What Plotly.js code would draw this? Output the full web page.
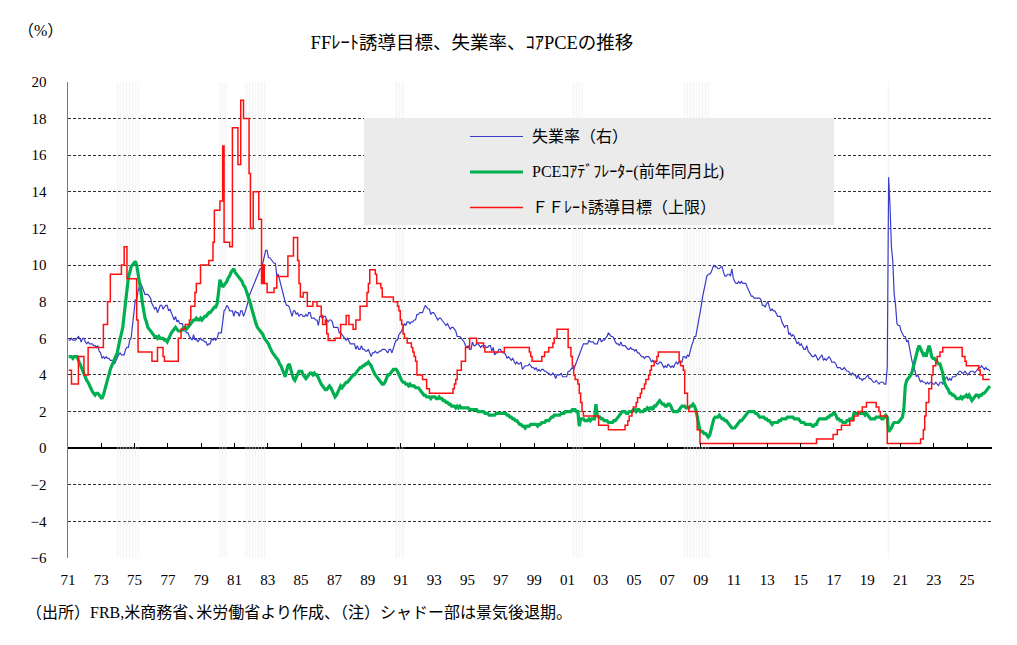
<!DOCTYPE html>
<html>
<head>
<meta charset="utf-8">
<script src="https://cdn.plot.ly/plotly-3.0.1.min.js"></script>
<style>
  html, body { margin: 0; padding: 0; background: #ffffff; }
  #chart { width: 1017px; height: 645px; }
</style>
</head>
<body>
<div id="chart"></div>
<script>
// ---- Data -------------------------------------------------------------
// Monthly series, January 1971 through May 2026.
const firstYear = 1971;

// Tick positions (every two years) and their labels
const tickYears = [1971, 1973, 1975, 1977, 1979, 1981, 1983, 1985, 1987, 1989, 1991, 1993, 1995, 1997,
                   1999, 2001, 2003, 2005, 2007, 2009, 2011, 2013, 2015, 2017, 2019, 2021, 2023, 2025];
const tickLabels = ['71', '73', '75', '77', '79', '81', '83', '85', '87', '89', '91', '93', '95', '97',
                    '99', '01', '03', '05', '07', '09', '11', '13', '15', '17', '19', '21', '23', '25'];

// Unemployment rate (%)
const unemployment = [
  5.9,5.9,6.0,5.9,5.9,5.9,6.0,6.1,6.0,5.8,6.0,6.0,   // 1971
  5.8,5.7,5.8,5.7,5.7,5.7,5.6,5.6,5.5,5.6,5.3,5.2,   // 1972
  4.9,5.0,4.9,5.0,4.9,4.9,4.8,4.8,4.8,4.6,4.8,4.9,   // 1973
  5.1,5.2,5.1,5.1,5.1,5.4,5.5,5.5,5.9,6.0,6.6,7.2,   // 1974
  8.1,8.1,8.6,8.8,9.0,8.8,8.6,8.4,8.4,8.4,8.3,8.2,   // 1975
  7.9,7.7,7.6,7.7,7.4,7.6,7.8,7.8,7.6,7.7,7.8,7.8,   // 1976
  7.5,7.6,7.4,7.2,7.0,7.2,6.9,7.0,6.8,6.8,6.8,6.4,   // 1977
  6.4,6.3,6.3,6.1,6.0,5.9,6.2,5.9,6.0,5.8,5.9,6.0,   // 1978
  5.9,5.9,5.8,5.8,5.6,5.7,5.7,6.0,5.9,6.0,5.9,6.0,   // 1979
  6.3,6.3,6.3,6.9,7.5,7.6,7.8,7.7,7.5,7.5,7.5,7.2,   // 1980
  7.5,7.4,7.4,7.2,7.5,7.5,7.2,7.4,7.6,7.9,8.3,8.5,   // 1981
  8.6,8.9,9.0,9.3,9.4,9.6,9.8,9.8,10.1,10.4,10.8,10.8, // 1982
  10.4,10.4,10.3,10.2,10.1,10.1,9.4,9.5,9.2,8.8,8.5,8.3, // 1983
  8.0,7.8,7.8,7.7,7.4,7.2,7.5,7.5,7.3,7.4,7.2,7.3,   // 1984
  7.3,7.2,7.2,7.3,7.2,7.4,7.4,7.1,7.1,7.1,7.0,7.0,   // 1985
  6.7,7.2,7.2,7.1,7.2,7.2,7.0,6.9,7.0,7.0,6.9,6.6,   // 1986
  6.6,6.6,6.6,6.3,6.3,6.2,6.1,6.0,5.9,6.0,5.8,5.7,   // 1987
  5.7,5.7,5.7,5.4,5.6,5.4,5.4,5.6,5.4,5.4,5.3,5.3,   // 1988
  5.4,5.2,5.0,5.2,5.2,5.3,5.2,5.2,5.3,5.3,5.4,5.4,   // 1989
  5.4,5.3,5.2,5.4,5.4,5.2,5.5,5.7,5.9,5.9,6.2,6.3,   // 1990
  6.4,6.6,6.8,6.7,6.9,6.9,6.8,6.9,6.9,7.0,7.0,7.3,   // 1991
  7.3,7.4,7.4,7.4,7.6,7.8,7.7,7.6,7.6,7.3,7.4,7.4,   // 1992
  7.3,7.1,7.0,7.1,7.1,7.0,6.9,6.8,6.7,6.8,6.6,6.5,   // 1993
  6.6,6.6,6.5,6.4,6.1,6.1,6.1,6.0,5.9,5.8,5.6,5.5,   // 1994
  5.6,5.4,5.4,5.8,5.6,5.6,5.7,5.7,5.6,5.5,5.6,5.6,   // 1995
  5.6,5.5,5.5,5.6,5.6,5.3,5.5,5.1,5.2,5.2,5.4,5.4,   // 1996
  5.3,5.2,5.2,5.1,4.9,5.0,4.9,4.8,4.9,4.7,4.6,4.7,   // 1997
  4.6,4.6,4.7,4.3,4.4,4.5,4.5,4.5,4.6,4.5,4.4,4.4,   // 1998
  4.3,4.4,4.2,4.3,4.2,4.3,4.3,4.2,4.2,4.1,4.1,4.0,   // 1999
  4.0,4.1,4.0,3.8,4.0,4.0,4.0,4.1,3.9,3.9,3.9,3.9,   // 2000
  4.2,4.2,4.3,4.4,4.3,4.5,4.6,4.9,5.0,5.3,5.5,5.7,   // 2001
  5.7,5.7,5.7,5.9,5.8,5.8,5.8,5.7,5.7,5.7,5.9,6.0,   // 2002
  5.8,5.9,5.9,6.0,6.1,6.3,6.2,6.1,6.1,6.0,5.8,5.7,   // 2003
  5.7,5.6,5.8,5.6,5.6,5.6,5.5,5.4,5.4,5.5,5.4,5.4,   // 2004
  5.3,5.4,5.2,5.2,5.1,5.0,5.0,4.9,5.0,5.0,5.0,4.9,   // 2005
  4.7,4.8,4.7,4.7,4.6,4.6,4.7,4.7,4.5,4.4,4.5,4.4,   // 2006
  4.6,4.5,4.4,4.5,4.4,4.6,4.7,4.6,4.7,4.7,4.7,5.0,   // 2007
  5.0,4.9,5.1,5.0,5.4,5.6,5.8,6.1,6.1,6.5,6.8,7.3,   // 2008
  7.8,8.3,8.7,9.0,9.4,9.5,9.5,9.6,9.8,10.0,9.9,9.9,  // 2009
  9.8,9.8,9.9,9.9,9.6,9.4,9.4,9.5,9.5,9.4,9.8,9.3,   // 2010
  9.1,9.0,9.0,9.1,9.0,9.1,9.0,9.0,9.0,8.8,8.6,8.5,   // 2011
  8.3,8.3,8.2,8.2,8.2,8.2,8.2,8.1,7.8,7.8,7.7,7.9,   // 2012
  8.0,7.7,7.5,7.6,7.5,7.5,7.3,7.2,7.2,7.2,6.9,6.7,   // 2013
  6.6,6.7,6.7,6.2,6.3,6.1,6.2,6.1,5.9,5.7,5.8,5.6,   // 2014
  5.7,5.5,5.4,5.4,5.6,5.3,5.2,5.1,5.0,5.0,5.1,5.0,   // 2015
  4.8,4.9,5.0,5.1,4.8,4.9,4.8,4.9,5.0,4.9,4.7,4.7,   // 2016
  4.7,4.6,4.4,4.4,4.4,4.3,4.3,4.4,4.3,4.2,4.2,4.1,   // 2017
  4.0,4.1,4.0,4.0,3.8,4.0,3.8,3.8,3.7,3.8,3.8,3.9,   // 2018
  4.0,3.8,3.8,3.7,3.6,3.6,3.7,3.6,3.5,3.6,3.6,3.6,   // 2019
  3.5,3.5,4.4,14.8,13.2,11.0,10.2,8.4,7.8,6.8,6.7,6.7, // 2020
  6.4,6.2,6.1,6.1,5.8,5.9,5.4,5.1,4.7,4.5,4.2,3.9,   // 2021
  4.0,3.8,3.6,3.7,3.6,3.6,3.5,3.6,3.5,3.6,3.6,3.5,   // 2022
  3.5,3.6,3.5,3.4,3.6,3.6,3.5,3.7,3.8,3.9,3.7,3.8,   // 2023
  3.7,3.9,3.9,3.9,4.0,4.1,4.2,4.2,4.1,4.1,4.2,4.1,   // 2024
  4.0,4.1,4.2,4.2,4.2,4.1,4.2,4.3,4.4,4.4,4.5,4.4,   // 2025
  4.3,4.4,4.3,4.3,4.2                                // 2026
];

// Core PCE deflator, year-on-year (%)
const corePce = [
  5.0,5.0,5.0,4.9,5.0,5.0,5.0,4.8,4.6,4.4,4.2,4.0,   // 1971
  3.9,3.7,3.6,3.4,3.2,3.1,3.0,2.9,3.0,3.0,2.9,2.8,   // 1972
  2.7,2.9,3.2,3.5,3.8,4.1,4.3,4.5,4.7,4.9,5.0,5.2,   // 1973
  5.6,6.0,6.3,6.6,7.3,8.0,8.8,9.3,9.6,9.9,10.0,10.1, // 1974
  10.2,10.0,9.6,9.2,8.6,8.0,7.4,7.1,6.9,6.6,6.5,6.4, // 1975
  6.3,6.2,6.1,6.1,6.0,6.1,6.0,6.0,6.0,5.9,5.9,5.8,   // 1976
  6.0,6.1,6.3,6.4,6.5,6.6,6.5,6.4,6.4,6.4,6.5,6.6,   // 1977
  6.6,6.5,6.6,6.7,6.8,6.9,7.0,7.0,7.1,7.0,7.0,7.1,   // 1978
  7.0,7.1,7.2,7.2,7.3,7.4,7.4,7.5,7.6,7.7,7.7,7.9,   // 1979
  8.5,9.2,9.0,8.8,8.9,9.0,9.1,9.3,9.4,9.6,9.7,9.8,   // 1980
  9.6,9.5,9.4,9.3,9.2,9.1,8.9,8.8,8.6,8.4,8.2,7.9,   // 1981
  7.6,7.3,7.0,6.8,6.6,6.5,6.4,6.3,6.2,6.0,5.9,5.8,   // 1982
  5.7,5.5,5.3,5.2,5.1,5.0,4.9,4.8,4.6,4.5,4.3,4.1,   // 1983
  3.9,4.2,4.5,4.6,4.3,4.0,3.8,3.7,3.9,4.1,4.2,4.2,   // 1984
  4.2,4.0,3.9,3.8,3.9,4.0,4.1,4.1,4.0,4.1,4.0,4.0,   // 1985
  3.8,3.6,3.5,3.4,3.3,3.2,3.2,3.3,3.4,3.3,3.1,2.9,   // 1986
  2.8,2.9,3.1,3.3,3.4,3.3,3.4,3.5,3.6,3.6,3.7,3.8,   // 1987
  3.9,4.0,4.0,4.1,4.2,4.3,4.4,4.4,4.5,4.5,4.6,4.6,   // 1988
  4.7,4.6,4.5,4.3,4.1,4.0,3.9,3.8,3.7,3.6,3.5,3.5,   // 1989
  3.6,3.8,4.0,4.0,4.1,4.2,4.3,4.3,4.3,4.2,4.0,3.8,   // 1990
  3.7,3.6,3.6,3.5,3.5,3.4,3.5,3.4,3.4,3.4,3.3,3.3,   // 1991
  3.3,3.2,3.1,3.0,2.9,2.9,2.8,2.8,2.8,2.7,2.8,2.8,   // 1992
  2.8,2.7,2.7,2.8,2.7,2.7,2.6,2.6,2.5,2.5,2.4,2.4,   // 1993
  2.3,2.3,2.3,2.2,2.3,2.2,2.3,2.2,2.2,2.2,2.2,2.2,   // 1994
  2.2,2.1,2.1,2.1,2.1,2.1,2.1,2.0,2.0,2.0,2.0,2.0,   // 1995
  1.9,1.9,1.9,1.8,1.8,1.8,1.8,1.8,1.9,1.9,1.9,1.9,   // 1996
  1.9,1.9,1.9,1.9,1.8,1.8,1.7,1.7,1.6,1.6,1.5,1.5,   // 1997
  1.4,1.3,1.3,1.2,1.2,1.1,1.2,1.2,1.2,1.3,1.3,1.3,   // 1998
  1.3,1.3,1.2,1.3,1.3,1.4,1.4,1.4,1.5,1.5,1.5,1.6,   // 1999
  1.7,1.7,1.8,1.8,1.8,1.8,1.8,1.9,1.9,1.9,2.0,2.0,   // 2000
  2.0,2.0,2.0,2.1,2.1,2.1,2.0,2.0,1.2,1.6,1.6,1.6,   // 2001
  1.5,1.5,1.5,1.6,1.5,1.6,1.6,1.6,2.4,1.8,1.7,1.7,   // 2002
  1.6,1.6,1.5,1.5,1.5,1.4,1.4,1.4,1.4,1.5,1.5,1.6,   // 2003
  1.7,1.8,1.9,2.0,2.0,2.0,1.9,1.9,2.0,2.0,2.0,2.1,   // 2004
  2.1,2.0,2.1,2.1,2.0,2.0,2.0,2.1,2.1,2.2,2.1,2.2,   // 2005
  2.2,2.1,2.3,2.3,2.4,2.5,2.6,2.5,2.4,2.4,2.3,2.3,   // 2006
  2.4,2.4,2.3,2.1,2.0,2.0,2.0,2.0,2.1,2.2,2.3,2.3,   // 2007
  2.3,2.2,2.2,2.2,2.3,2.3,2.4,2.3,2.1,1.7,1.2,1.0,   // 2008
  0.9,0.9,0.8,0.8,0.7,0.6,0.7,1.0,1.4,1.6,1.7,1.7,   // 2009
  1.7,1.8,1.7,1.6,1.6,1.5,1.5,1.4,1.3,1.2,1.1,1.1,   // 2010
  1.1,1.2,1.3,1.4,1.5,1.5,1.6,1.7,1.8,1.9,2.0,2.0,   // 2011
  2.0,2.0,2.0,1.9,1.9,1.8,1.7,1.7,1.7,1.7,1.6,1.6,   // 2012
  1.5,1.5,1.4,1.3,1.4,1.4,1.4,1.4,1.5,1.5,1.6,1.6,   // 2013
  1.6,1.6,1.7,1.7,1.7,1.7,1.7,1.6,1.6,1.6,1.6,1.5,   // 2014
  1.4,1.4,1.4,1.3,1.3,1.3,1.3,1.3,1.2,1.2,1.3,1.3,   // 2015
  1.5,1.6,1.6,1.6,1.6,1.6,1.6,1.7,1.7,1.8,1.8,1.9,   // 2016
  1.9,1.8,1.6,1.6,1.5,1.5,1.4,1.4,1.4,1.5,1.5,1.6,   // 2017
  1.6,1.6,1.9,1.9,1.9,1.9,1.9,1.9,1.9,1.9,1.8,1.9,   // 2018
  1.8,1.7,1.6,1.6,1.6,1.6,1.7,1.7,1.7,1.7,1.6,1.6,   // 2019
  1.7,1.8,1.7,0.9,1.0,1.1,1.3,1.4,1.4,1.4,1.4,1.5,   // 2020
  1.6,1.7,2.2,3.4,3.7,3.8,3.9,4.0,4.2,4.5,4.9,5.2,   // 2021
  5.4,5.6,5.4,5.2,5.1,5.2,5.0,5.3,5.6,5.4,5.0,4.9,   // 2022
  4.9,4.8,4.7,4.6,4.6,4.3,4.1,3.6,3.4,3.3,3.2,3.0,   // 2023
  3.0,2.9,2.9,2.8,2.7,2.7,2.7,2.8,2.7,2.8,2.8,2.9,   // 2024
  2.8,2.9,2.7,2.6,2.7,2.8,2.9,2.9,2.8,2.9,2.9,3.0,   // 2025
  3.0,3.1,3.2,3.3,3.4                                // 2026
];

// Federal funds target (upper bound, %): month of each change and the new level
const ffMonths = [
  '1971-01','1971-03','1971-08','1971-12','1972-03','1973-02','1973-05','1973-07','1974-03','1974-05',
  '1974-07','1975-02','1975-03','1976-01','1976-05','1976-09','1976-10','1977-08','1977-10','1978-01',
  '1978-04','1978-05','1978-08','1978-09','1978-12','1979-06','1979-09','1979-10','1980-02','1980-04',
  '1980-05','1980-09','1980-11','1981-03','1981-05','1981-07','1981-11','1981-12','1982-02','1982-06',
  '1982-08','1982-09','1982-10','1982-12','1983-05','1983-07','1984-03','1984-07','1984-10','1984-11',
  '1984-12','1985-02','1985-05','1985-09','1985-12','1986-03','1986-04','1986-06','1986-07','1986-08',
  '1987-01','1987-05','1987-09','1987-11','1988-02','1988-04','1988-07','1988-12','1989-01','1989-02',
  '1989-06','1989-07','1989-10','1989-11','1990-07','1990-10','1990-11','1990-12','1991-01','1991-02',
  '1991-03','1991-05','1991-08','1991-09','1991-10','1991-11','1991-12','1992-04','1992-07','1992-09',
  '1994-02','1994-03','1994-04','1994-05','1994-08','1994-11','1995-02','1995-07','1995-12','1996-01',
  '1997-03','1998-09','1998-10','1998-11','1999-06','1999-08','1999-11','2000-02','2000-03','2000-05',
  '2001-01','2001-03','2001-04','2001-05','2001-06','2001-08','2001-09','2001-10','2001-11','2001-12',
  '2002-11','2003-06','2004-06','2004-08','2004-09','2004-11','2004-12','2005-02','2005-03','2005-05',
  '2005-06','2005-08','2005-09','2005-11','2005-12','2006-01','2006-03','2006-05','2006-06','2007-09',
  '2007-10','2007-12','2008-01','2008-03','2008-04','2008-10','2008-12','2015-12','2016-12','2017-03',
  '2017-06','2017-12','2018-03','2018-06','2018-09','2018-12','2019-07','2019-09','2019-10','2020-03',
  '2022-03','2022-05','2022-06','2022-07','2022-09','2022-11','2022-12','2023-02','2023-03','2023-05',
  '2023-07','2024-09','2024-11','2024-12','2025-09','2025-10','2025-12','2026-05'
];
const ffUpper = [
  4.25, 3.5, 5.0, 4.0, 5.5, 6.75, 8.0, 9.5, 10.0, 11.0,
  9.25, 7.0, 5.25, 4.75, 5.5, 5.0, 4.75, 6.0, 6.5, 6.75,
  7.0, 7.75, 8.5, 9.0, 10.0, 10.25, 11.25, 13.0, 13.5, 16.5,
  11.25, 11.0, 17.5, 15.5, 19.0, 18.0, 15.0, 12.0, 14.0, 12.5,
  9.0, 10.0, 9.0, 8.5, 8.75, 9.375, 10.5, 11.5, 10.25, 9.0,
  8.25, 8.5, 7.75, 8.0, 7.75, 7.25, 6.75, 7.0, 6.25, 5.875,
  6.0, 6.75, 7.25, 6.75, 6.5, 7.0, 7.75, 8.5, 9.0, 9.75,
  9.5, 9.0, 8.75, 8.25, 8.0, 7.75, 7.5, 7.0, 6.75, 6.25,
  6.0, 5.75, 5.5, 5.25, 5.0, 4.75, 4.0, 3.75, 3.25, 3.0,
  3.25, 3.5, 3.75, 4.25, 4.75, 5.5, 6.0, 5.75, 5.5, 5.25,
  5.5, 5.25, 5.0, 4.75, 5.0, 5.25, 5.5, 5.75, 6.0, 6.5,
  5.5, 5.0, 4.5, 4.0, 3.75, 3.5, 3.0, 2.5, 2.0, 1.75,
  1.25, 1.0, 1.25, 1.5, 1.75, 2.0, 2.25, 2.5, 2.75, 3.0,
  3.25, 3.5, 3.75, 4.0, 4.25, 4.5, 4.75, 5.0, 5.25, 4.75,
  4.5, 4.25, 3.0, 2.25, 2.0, 1.0, 0.25, 0.5, 0.75, 1.0,
  1.25, 1.5, 1.75, 2.0, 2.25, 2.5, 2.25, 2.0, 1.75, 0.25,
  0.5, 1.0, 1.75, 2.5, 3.25, 4.0, 4.5, 4.75, 5.0, 5.25,
  5.5, 5.0, 4.75, 4.5, 4.25, 4.0, 3.75, 3.75
];

// Recessions (first and last month)
const recessionStart = ['1973-12','1980-02','1981-08','1990-08','2001-04','2008-01','2020-03'];
const recessionEnd   = ['1975-03','1980-07','1982-11','1991-03','2001-11','2009-06','2020-04'];

const seriesNames = ['失業率（右）', 'PCEｺｱﾃﾞﾌﾚｰﾀｰ(前年同月比)', 'ＦＦﾚｰﾄ誘導目標（上限）'];
const chartTitle = 'FFﾚｰﾄ誘導目標、失業率、ｺｱPCEの推移';
const unitLabel = '（%）';
const sourceNote = '（出所）FRB,米商務省､米労働省より作成、（注）シャドー部は景気後退期。';

// ---- Helpers ----------------------------------------------------------
const monthPos = i => firstYear + i / 12 + 1 / 24;          // centre of month i
const ymPos = s => { const [y, m] = s.split('-').map(Number); return y + (m - 1) / 12 + 1 / 24; };
const ymStart = s => { const [y, m] = s.split('-').map(Number); return y + (m - 1) / 12; };
const ymEnd = s => { const [y, m] = s.split('-').map(Number); return y + m / 12; };

const xMin = firstYear, xMax = firstYear + 666 / 12;
const yMin = -6, yMax = 20;

const W = 1017, H = 645;
const M = { l: 68, r: 25, t: 82, b: 87 };
const pw = W - M.l - M.r, ph = H - M.t - M.b;
const px = x => (x - M.l) / pw;      // pixel -> paper x
const py = y => (H - M.b - y) / ph;  // pixel -> paper y

const serif = 'Liberation Serif, Noto Sans CJK JP';
const colors = ['#3b3bc9', '#00b050', '#ff1010'];
const widths = [1.2, 3.2, 1.5];

// ---- Traces -----------------------------------------------------------
const recession = {
  type: 'bar',
  x: recessionStart.map((s, i) => (ymStart(s) + ymEnd(recessionEnd[i])) / 2),
  width: recessionStart.map((s, i) => ymEnd(recessionEnd[i]) - ymStart(s)),
  y: recessionStart.map(() => yMax - yMin),
  base: yMin,
  marker: {
    color: 'rgba(255,255,255,0)',
    line: { width: 0 },
    pattern: { shape: '|', fgcolor: '#ebebeb', bgcolor: 'rgba(255,255,255,0)',
               size: 3, solidity: 0.5, fillmode: 'overlay' }
  },
  hoverinfo: 'skip', showlegend: false
};

const unemp = {
  type: 'scatter', mode: 'lines', name: seriesNames[0],
  x: unemployment.map((_, i) => monthPos(i)), y: unemployment,
  line: { color: colors[0], width: widths[0] }, showlegend: false
};
const pce = {
  type: 'scatter', mode: 'lines', name: seriesNames[1],
  x: corePce.map((_, i) => monthPos(i)), y: corePce,
  line: { color: colors[1], width: widths[1] }, showlegend: false
};
const ff = {
  type: 'scatter', mode: 'lines', name: seriesNames[2],
  x: ffMonths.map(ymPos), y: ffUpper,
  line: { color: colors[2], width: widths[2], shape: 'hv' }, showlegend: false
};
// carrier for the tick marks drawn on the zero line
const zeroAxisCarrier = { type: 'scatter', x: [], y: [], xaxis: 'x2', yaxis: 'y', showlegend: false, hoverinfo: 'skip' };

// ---- Legend box (drawn by hand) ------------------------------------
const legendRows = [136.5, 172, 207.5];
const shapes = [
  { type: 'rect', xref: 'paper', yref: 'paper', layer: 'above',
    x0: px(364), x1: px(834), y0: py(225), y1: py(118),
    fillcolor: '#ebebeb', line: { width: 0 } }
];
legendRows.forEach((yy, i) => shapes.push({
  type: 'line', xref: 'paper', yref: 'paper', layer: 'above',
  x0: px(470), x1: px(523), y0: py(yy), y1: py(yy),
  line: { color: colors[i], width: widths[i] }
}));

const annotations = legendRows.map((yy, i) => ({
  xref: 'paper', yref: 'paper', x: px(530), y: py(yy),
  xanchor: 'left', yanchor: 'middle', showarrow: false,
  text: seriesNames[i], font: { family: serif, size: 16, color: '#000' }
}));
annotations.push({
  xref: 'paper', yref: 'paper', x: px(40), y: py(31),
  xanchor: 'center', yanchor: 'middle', showarrow: false,
  text: unitLabel, font: { family: serif, size: 16, color: '#000' }
});
annotations.push({
  xref: 'paper', yref: 'paper', x: px(24), y: py(612),
  xanchor: 'left', yanchor: 'middle', showarrow: false,
  text: sourceNote, font: { family: serif, size: 16, color: '#000' }
});

// ---- Layout -----------------------------------------------------------
const layout = {
  width: W, height: H,
  margin: M,
  paper_bgcolor: '#ffffff', plot_bgcolor: '#ffffff',
  showlegend: false,
  barmode: 'overlay',
  title: {
    text: chartTitle, x: 472 / W, xanchor: 'center', y: 1 - 43 / H, yanchor: 'middle',
    font: { family: serif, size: 18.5, color: '#000' }
  },
  xaxis: {
    range: [xMin, xMax], tickmode: 'array', tickvals: tickYears, ticktext: tickLabels,
    ticks: 'outside', ticklen: 8, tickcolor: 'rgba(0,0,0,0)',
    showgrid: false, zeroline: false, showline: false,
    tickfont: { family: serif, size: 15, color: '#000' }, fixedrange: true
  },
  xaxis2: {
    overlaying: 'x', anchor: 'free', position: (0 - yMin) / (yMax - yMin), side: 'bottom',
    range: [xMin, xMax], tickmode: 'array', tickvals: tickYears,
    ticks: 'inside', ticklen: 5, tickwidth: 1, tickcolor: '#000',
    showticklabels: false, showgrid: false, zeroline: false, showline: false, fixedrange: true
  },
  yaxis: {
    range: [yMin, yMax], dtick: 2, tick0: 0,
    showgrid: true, gridcolor: '#303030', gridwidth: 1, griddash: '3px,2px',
    zeroline: true, zerolinecolor: '#000', zerolinewidth: 1.5,
    showline: true, linecolor: '#7a7a7a', linewidth: 1.5,
    ticks: 'outside', ticklen: 17, tickcolor: 'rgba(0,0,0,0)',
    tickfont: { family: serif, size: 15, color: '#000' }, fixedrange: true
  },
  shapes: shapes,
  annotations: annotations
};

Plotly.newPlot('chart', [recession, unemp, pce, ff, zeroAxisCarrier], layout,
  { staticPlot: true, displayModeBar: false });
</script>
</body>
</html>
